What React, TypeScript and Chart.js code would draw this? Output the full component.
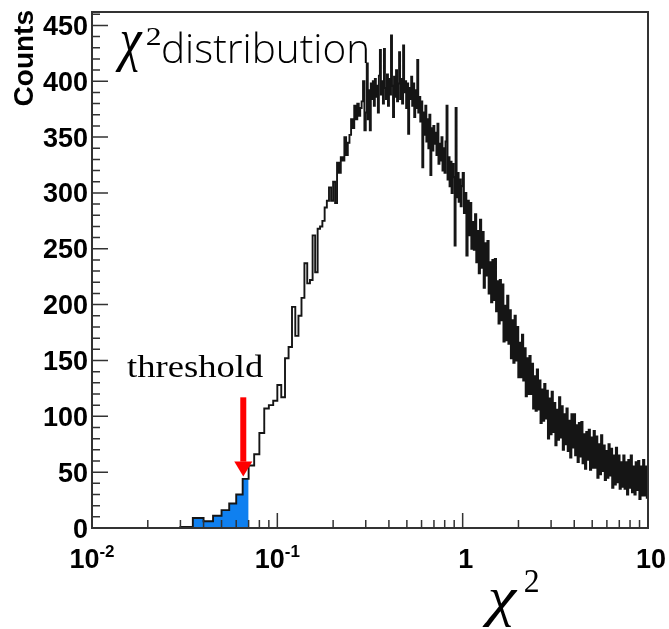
import { useEffect, useRef } from "react";
import { Chart, registerables } from "chart.js";

Chart.register(...registerables);

// Axis ranges
const X_MIN = 0.01;
const X_MAX = 10;
const Y_MAX = 462;

// Low-χ² region: uniform bins of width 0.005 starting at 0.030
const fineStart = 0.03;
const fineWidth = 0.005;
const fineCounts = [
  1, 9, 6, 11, 16, 22, 30, 44, 56, 66, 85, 107, 110, 114, 128, 117, 152, 162,
  198, 172, 190, 206, 237, 219, 222, 262, 229, 268, 270, 275, 287, 293, 305,
  293, 310, 291, 327, 318, 332, 329, 350, 334, 345, 352, 366, 358, 378, 366,
  380, 369, 376, 382, 400, 356,
];

// Peak region: log-spaced bins between 0.3 and 1
const peakStart = 0.3;
const peakEnd = 1;
const peakCounts = [
  372, 416, 366, 392, 356, 398, 384, 400,
  378, 402, 386, 396, 372, 405, 428, 388,
  400, 380, 429, 394, 384, 406, 378, 402,
  388, 441, 396, 368, 404, 386, 410, 382,
  398, 426, 384, 402, 380, 432, 390, 400,
  376, 398, 353, 394, 384, 404, 378, 398,
  368, 392, 376, 419, 372, 386, 364, 382,
  323, 372, 352, 378, 346, 366, 340, 370,
  316, 358, 338, 360, 344, 354, 334, 362,
  326, 344, 329, 350, 320, 340, 318, 346,
  378, 312, 332, 306, 328, 300, 326, 314,
  253, 376, 296, 318, 292, 312, 288, 306,
];

// Tail: log-spaced bins between 1 and 10
const tailStart = 1;
const tailEnd = 10;
const tailCounts = [
  318, 282, 300, 244, 293, 262, 291, 250, 274, 249, 281, 238, 266, 228, 276,
  233, 265, 215, 255, 226, 257, 210, 238, 202, 240, 204, 241, 194, 221, 183,
  222, 186, 218, 167, 199, 168, 208, 165, 195, 152, 186, 148, 190, 150, 180,
  135, 166, 135, 173, 132, 161, 118, 152, 120, 154, 120, 147, 107, 136, 105,
  142, 106, 132, 94, 124, 96, 129, 98, 123, 80, 116, 84, 122, 86, 112,
  74, 106, 79, 117, 81, 109, 70, 102, 75, 107, 69, 96, 63, 102, 72,
  102, 65, 92, 59, 94, 64, 95, 58, 84, 53, 86, 61, 88, 52, 81,
  54, 87, 54, 82, 45, 75, 48, 83, 51, 74, 43, 69, 45, 75, 47,
  71, 36, 65, 39, 72, 41, 65, 35, 59, 37, 65, 35, 59, 30, 61,
  36, 65, 32, 55, 30, 59, 34, 60, 26, 55, 29, 61, 29, 55, 27,
];

// Selection cut: bins below this χ² are shaded
const thresholdChi2 = 0.07;
// Arrow pointing at the cut
const arrowX = 0.0655;
const arrowTipCount = 46;
const arrowTailCount = 117;

// Tick labels
const yTickValues = [0, 50, 100, 150, 200, 250, 300, 350, 400, 450];
const yTickLabels = ["0", "50", "100", "150", "200", "250", "300", "350", "400", "450"];
const xTickValues = [0.01, 0.1, 1, 10];
const xTickBase = ["10", "10", "1", "10"];
const xTickExp = ["-2", "-1", "", ""];

type Pt = { x: number; y: number };

// Each point is a bin's upper edge with its count (step drawn back to the lower edge).
function buildHistogram(): Pt[] {
  const pts: Pt[] = [{ x: fineStart, y: 0 }];
  fineCounts.forEach((c, i) => pts.push({ x: fineStart + (i + 1) * fineWidth, y: c }));
  const addLog = (start: number, end: number, counts: number[]) => {
    const r = Math.pow(end / start, 1 / counts.length);
    counts.forEach((c, i) => pts.push({ x: start * Math.pow(r, i + 1), y: c }));
  };
  addLog(peakStart, peakEnd, peakCounts);
  addLog(tailStart, tailEnd, tailCounts);
  return pts;
}

function buildShaded(): Pt[] {
  const pts: Pt[] = [{ x: fineStart, y: 0 }];
  fineCounts.forEach((c, i) => {
    const right = fineStart + (i + 1) * fineWidth;
    if (right <= thresholdChi2 + 1e-9) pts.push({ x: right, y: c });
  });
  return pts;
}

// Draw text stretched into a glyph box (left, top, width, height)
function fitText(
  ctx: CanvasRenderingContext2D,
  text: string,
  font: (s: number) => string,
  left: number,
  top: number,
  w: number,
  h: number
) {
  ctx.font = font(100);
  const m = ctx.measureText(text);
  const mw = m.actualBoundingBoxLeft + m.actualBoundingBoxRight;
  const mh = m.actualBoundingBoxAscent + m.actualBoundingBoxDescent;
  ctx.save();
  ctx.translate(left, top);
  ctx.scale(w / mw, h / mh);
  ctx.textAlign = "left";
  ctx.textBaseline = "alphabetic";
  ctx.fillText(text, m.actualBoundingBoxLeft, m.actualBoundingBoxAscent);
  ctx.restore();
}

const framePlugin = {
  id: "frameAndLabels",
  afterDatasetsDraw(chart: any) {
    const ctx: CanvasRenderingContext2D = chart.ctx;
    const a = chart.chartArea;
    const xs = chart.scales.x;
    const ys = chart.scales.y;
    ctx.save();

    // frame
    ctx.strokeStyle = "#333";
    ctx.lineWidth = 2;
    ctx.strokeRect(a.left, a.top, a.right - a.left, a.bottom - a.top);

    // inward ticks
    ctx.lineWidth = 1.5;
    ctx.beginPath();
    for (let v = 0; v <= Y_MAX; v += 10) {
      const py = ys.getPixelForValue(v);
      const len = v % 50 === 0 ? 16 : 8;
      ctx.moveTo(a.left, py);
      ctx.lineTo(a.left + len, py);
    }
    for (let e = -2; e <= 1; e++) {
      for (let k = 1; k <= 9; k++) {
        const v = k * Math.pow(10, e);
        if (v > X_MAX * 1.0001) break;
        const px = xs.getPixelForValue(v);
        const len = k === 1 ? 15 : 8;
        ctx.moveTo(px, a.bottom);
        ctx.lineTo(px, a.bottom - len);
      }
    }
    ctx.stroke();

    // tick labels
    ctx.fillStyle = "#000";
    const bold = (s: number) => `bold ${s}px "Liberation Sans", Arial, sans-serif`;
    ctx.font = bold(27);
    ctx.textAlign = "right";
    ctx.textBaseline = "alphabetic";
    yTickValues.forEach((v, i) => {
      const py = ys.getPixelForValue(v);
      ctx.fillText(yTickLabels[i], a.left - 4, py + 9.5);
    });

    ctx.textAlign = "left";
    xTickValues.forEach((v, i) => {
      const px = xs.getPixelForValue(v);
      ctx.font = bold(27);
      const wb = ctx.measureText(xTickBase[i]).width;
      ctx.font = bold(17);
      const we = xTickExp[i] ? ctx.measureText(xTickExp[i]).width : 0;
      const x0 = px - (wb + we) / 2 + (xTickExp[i] ? 0 : 3);
      ctx.font = bold(27);
      ctx.fillText(xTickBase[i], x0, 568);
      if (xTickExp[i]) {
        ctx.font = bold(17);
        ctx.fillText(xTickExp[i], x0 + wb, 557);
      }
    });

    // y-axis title
    ctx.save();
    ctx.font = bold(28);
    ctx.translate(33, 10);
    ctx.rotate(-Math.PI / 2);
    ctx.textAlign = "right";
    ctx.fillText("Counts", 0, 0);
    ctx.restore();

    // plot title and x-axis title
    const serifItalic = (s: number) => `italic ${s}px "Liberation Serif", "Times New Roman", serif`;
    const serif = (s: number) => `${s}px "Liberation Serif", "Times New Roman", serif`;
    const sans = (s: number) => `300 ${s}px "Open Sans", "DejaVu Sans", sans-serif`;
    fitText(ctx, "χ", serifItalic, 115, 32, 28, 40);
    fitText(ctx, "2", serif, 147, 28, 13, 17);
    fitText(ctx, "distribution", sans, 163, 32, 204, 31);
    fitText(ctx, "χ", serifItalic, 482, 590, 36, 37);
    fitText(ctx, "2", serif, 525, 570, 13, 22);

    // threshold annotation
    fitText(ctx, "threshold", serif, 127, 355, 136, 22);
    const ax = xs.getPixelForValue(arrowX);
    const tipY = ys.getPixelForValue(arrowTipCount);
    const tailY = ys.getPixelForValue(arrowTailCount);
    ctx.fillStyle = "#ff0000";
    ctx.fillRect(ax - 3, tailY, 6, tipY - 15 - tailY);
    ctx.beginPath();
    ctx.moveTo(ax - 9, tipY - 15);
    ctx.lineTo(ax + 9, tipY - 15);
    ctx.lineTo(ax, tipY);
    ctx.closePath();
    ctx.fill();

    ctx.restore();
  },
};

export default function App() {
  const canvasRef = useRef<HTMLCanvasElement | null>(null);

  useEffect(() => {
    const canvas = canvasRef.current;
    if (!canvas) return;
    const chart = new Chart(canvas, {
      type: "line",
      data: {
        datasets: [
          {
            data: buildHistogram(),
            borderColor: "#151515",
            borderWidth: 1.9,
            stepped: "after",
            pointRadius: 0,
            fill: false,
          },
          {
            data: buildShaded(),
            borderColor: "rgba(0,0,0,0)",
            borderWidth: 0,
            backgroundColor: "#0f80f0",
            stepped: "after",
            pointRadius: 0,
            fill: "origin",
          },
        ],
      },
      options: {
        responsive: false,
        animation: false,
        events: [],
        layout: { padding: { left: 92, right: 21, top: 12, bottom: 101 } },
        scales: {
          x: { type: "logarithmic", min: X_MIN, max: X_MAX, display: false },
          y: { type: "linear", min: 0, max: Y_MAX, display: false },
        },
        plugins: { legend: { display: false }, tooltip: { enabled: false } },
      },
      plugins: [framePlugin],
    } as any);
    return () => chart.destroy();
  }, []);

  return (
    <div style={{ position: "absolute", left: 0, top: 0, width: 669, height: 629, background: "#fff" }}>
      <canvas ref={canvasRef} width={669} height={629} style={{ display: "block" }} />
    </div>
  );
}
